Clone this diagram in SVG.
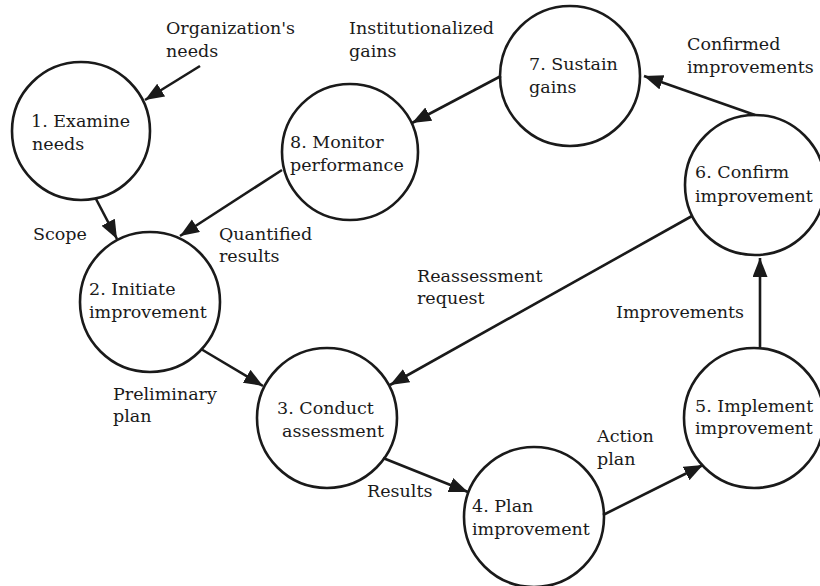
<svg xmlns="http://www.w3.org/2000/svg" width="820" height="586" viewBox="0 0 820 586">
  <style>
    .node circle { fill: #fff; stroke: #1a1a1a; stroke-width: 2.6; }
    text { font-family: "DejaVu Serif", "Liberation Serif", serif; font-size: 17.5px; fill: #1a1a1a; }
    .edge { stroke: #1a1a1a; stroke-width: 2.6; fill: none; marker-end: url(#head); }
  </style>
  <defs>
    <marker id="head" markerUnits="userSpaceOnUse" markerWidth="20" markerHeight="16" refX="19" refY="7.5" orient="auto">
      <path d="M0,0 L19,7.5 L0,15 z" fill="#1a1a1a"/>
    </marker>
  </defs>

  <rect width="820" height="586" fill="#fff"/>

  <!-- process steps -->
  <g id="n1" class="node">
    <circle cx="81" cy="131" r="69"/>
    <text x="31" y="127">1. Examine</text>
    <text x="32" y="150">needs</text>
  </g>
  <g id="n2" class="node">
    <circle cx="150" cy="302" r="70"/>
    <text x="89" y="295">2. Initiate</text>
    <text x="89" y="318">improvement</text>
  </g>
  <g id="n3" class="node">
    <circle cx="327" cy="418" r="70"/>
    <text x="277" y="414">3. Conduct</text>
    <text x="282" y="437">assessment</text>
  </g>
  <g id="n4" class="node">
    <circle cx="534" cy="517" r="70"/>
    <text x="472" y="512">4. Plan</text>
    <text x="472" y="535">improvement</text>
  </g>
  <g id="n5" class="node">
    <circle cx="754" cy="418" r="70"/>
    <text x="695" y="412">5. Implement</text>
    <text x="695" y="434">improvement</text>
  </g>
  <g id="n6" class="node">
    <circle cx="755" cy="185" r="70"/>
    <text x="695" y="178">6. Confirm</text>
    <text x="695" y="202">improvement</text>
  </g>
  <g id="n7" class="node">
    <circle cx="570" cy="76" r="70"/>
    <text x="529" y="70">7. Sustain</text>
    <text x="529" y="93">gains</text>
  </g>
  <g id="n8" class="node">
    <circle cx="350" cy="152" r="68"/>
    <text x="290" y="148">8. Monitor</text>
    <text x="290" y="171">performance</text>
  </g>

  <!-- flows between steps -->
  <g id="connectors">
    <line class="edge" x1="200" y1="66" x2="145" y2="100"/>
    <line class="edge" x1="96" y1="199" x2="117" y2="239"/>
    <line class="edge" x1="282" y1="170" x2="180" y2="236"/>
    <line class="edge" x1="501" y1="76" x2="412" y2="123"/>
    <line class="edge" x1="755" y1="115" x2="644" y2="76"/>
    <line class="edge" x1="692" y1="216" x2="390" y2="385"/>
    <line class="edge" x1="201" y1="349" x2="263" y2="386"/>
    <line class="edge" x1="383" y1="458" x2="468" y2="492"/>
    <line class="edge" x1="603" y1="515" x2="703" y2="465"/>
    <line class="edge" x1="760" y1="348" x2="760" y2="258"/>
  </g>

  <!-- flow labels -->
  <g id="labels">
    <text x="166" y="34">Organization's</text>
    <text x="166" y="57">needs</text>
    <text x="349" y="34">Institutionalized</text>
    <text x="349" y="57">gains</text>
    <text x="687" y="50">Confirmed</text>
    <text x="687" y="73">improvements</text>
    <text x="33" y="240">Scope</text>
    <text x="219" y="240">Quantified</text>
    <text x="219" y="262">results</text>
    <text x="417" y="282">Reassessment</text>
    <text x="417" y="304">request</text>
    <text x="616" y="318">Improvements</text>
    <text x="113" y="400">Preliminary</text>
    <text x="113" y="422">plan</text>
    <text x="597" y="442">Action</text>
    <text x="597" y="465">plan</text>
    <text x="367" y="497">Results</text>
  </g>
</svg>
